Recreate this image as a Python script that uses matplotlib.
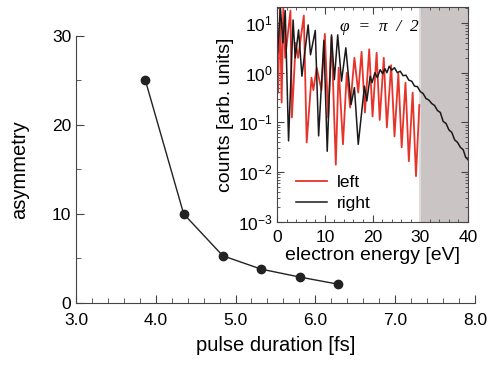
import numpy as np
import matplotlib.pyplot as plt
from matplotlib.ticker import MultipleLocator, FormatStrFormatter, LogLocator, NullFormatter

plt.rcParams['font.family'] = ['Liberation Sans', 'DejaVu Sans']
plt.rcParams['mathtext.fontset'] = 'custom'
plt.rcParams['mathtext.rm'] = 'Liberation Sans'
plt.rcParams['mathtext.it'] = 'Liberation Sans:italic'

# main panel: asymmetry vs pulse duration
pulse_fs = [3.87, 4.35, 4.84, 5.32, 5.81, 6.29]
asymmetry = [25.0, 10.0, 5.3, 3.8, 2.9, 2.1]

# inset: spectra, read as log10(counts) at turning points
left_E = [0.2, 0.6, 0.95, 1.3, 1.7, 2.8, 3.1, 3.9, 4.4, 5.6, 6.2, 7.2, 7.6, 8.3, 9.3,
          10.0, 10.7, 11.4, 12.3, 12.9, 13.8, 14.6, 15.3, 16.2, 17.0, 17.7, 18.4,
          19.3, 20.0, 20.85, 21.5, 22.35, 23.0, 23.9, 24.6, 25.4, 26.1, 26.9, 27.6,
          28.4, 29.1, 29.8]
left_log = [-0.4, 1.35, -0.6, 1.3, 0.3, 1.25, -0.9, 0.6, 0.3, 1.15, -1.4, -0.1, -0.35, 0.1, -0.35,
            0.78, -0.9, 0.72, -1.85, 0.1, -1.44, 0.0, -0.7, 0.3, -0.4, 0.42, -0.8,
            0.47, -0.88, 0.4, -0.95, 0.3, -1.1, 0.15, -1.28, -0.02, -1.5, -0.2, -1.78,
            -0.4, -2.08, -0.65]

right_E = [0.1, 0.7, 1.2, 1.7, 2.4, 3.35, 3.8, 4.5, 5.2, 6.5, 7.0, 8.0, 8.7, 9.8, 10.5,
           11.4, 12.0, 12.7, 13.5, 14.4, 15.5, 16.2, 17.0, 18.3, 18.8, 19.5, 19.9, 20.5,
           21.0, 21.6, 22.1, 22.6, 23.0, 23.5, 24.0, 24.6, 25.2, 25.8, 26.4, 27.0, 27.6,
           28.2, 28.8, 29.4, 30.0, 30.6, 31.2, 31.8, 32.4, 33.0, 33.6, 34.2, 34.8, 35.4,
           36.0, 36.6, 37.2, 37.8, 38.4, 39.0, 39.5, 40.0]
right_log = [0.4, 1.3, 0.6, 1.25, -1.37, 1.06, 0.3, 0.86, -0.07, 0.96, 0.36, 0.85, -1.27, 0.65, -1.58,
             0.76, -0.14, 0.76, -0.17, 0.5, -0.64, -0.3, -1.44, -0.27, -0.57, -0.07, -0.2, 0.0,
             -0.1, 0.06, -0.02, 0.08, 0.0, 0.13, 0.05, 0.1, 0.0, 0.03, -0.06, -0.05, -0.15,
             -0.17, -0.27, -0.28, -0.38, -0.42, -0.52, -0.55, -0.62, -0.66, -0.76, -0.8, -0.98, -1.02,
             -1.15, -1.2, -1.35, -1.4, -1.5, -1.55, -1.7, -1.75]

fig = plt.figure(figsize=(4.87, 3.65), dpi=100)
ax = fig.add_axes([0.156, 0.170, 0.819, 0.732])
ax.plot(pulse_fs, asymmetry, color='#222222', lw=1.0, marker='o', ms=6)
ax.set_xlim(3, 8)
ax.set_ylim(0, 30)
ax.spines['top'].set_visible(False)
ax.spines['right'].set_visible(False)
for s in ax.spines.values():
    s.set_color('#444444')
ax.xaxis.set_major_locator(MultipleLocator(1))
ax.xaxis.set_minor_locator(MultipleLocator(0.2))
ax.xaxis.set_major_formatter(FormatStrFormatter('%.1f'))
ax.yaxis.set_major_locator(MultipleLocator(10))
ax.yaxis.set_minor_locator(MultipleLocator(5))
ax.tick_params(which='both', direction='in', labelsize=12.5, color='#444444')
ax.tick_params(axis='x', pad=7)
ax.tick_params(which='major', length=6)
ax.tick_params(which='minor', length=3.5)
ax.set_xlabel('pulse duration [fs]', fontsize=14.5, labelpad=6)
ax.set_ylabel('asymmetry', fontsize=14.5, labelpad=16)

ins = fig.add_axes([0.569, 0.392, 0.392, 0.589])
ins.axvspan(30, 40, color='#cac4c4', lw=0)
ins.axvline(30, color='#dedcdc', lw=1.5)
ins.plot(left_E, 10 ** np.array(left_log), color='#e8332a', lw=1.3, label='left')
ins.plot(right_E, 10 ** np.array(right_log), color='#1a1a1a', lw=1.1, label='right')
ins.set_yscale('log')
ins.set_xlim(0, 40)
ins.set_ylim(1e-3, 21)
ins.xaxis.set_major_locator(MultipleLocator(10))
ins.xaxis.set_minor_locator(MultipleLocator(2))
ins.yaxis.set_major_locator(LogLocator(base=10, numticks=10))
ins.yaxis.set_minor_locator(LogLocator(base=10, subs=np.arange(2, 10), numticks=10))
ins.yaxis.set_minor_formatter(NullFormatter())
ins.tick_params(which='both', direction='in', top=True, right=True, labelsize=12.5, color='#444444', pad=3)
ins.tick_params(axis='x', pad=6)
ins.tick_params(which='major', length=5)
ins.tick_params(which='minor', length=2.5)
for s in ins.spines.values():
    s.set_color('#444444')
ins.set_xlabel('electron energy [eV]', fontsize=14, labelpad=1)
ins.set_ylabel('counts [arb. units]', fontsize=14, labelpad=3)
ins.text(0.535, 0.905, '\u03c6  =  \u03c0  /  2', transform=ins.transAxes, ha='center', va='center',
         fontsize=12.5, fontstyle='italic', family=['Liberation Serif', 'DejaVu Serif'])
ins.legend(loc='lower left', frameon=False, fontsize=12.5, handlelength=1.8, handletextpad=0.6,
           labelspacing=0.3, borderaxespad=0.0, bbox_to_anchor=(0.06, 0.02))

fig.savefig('out.png', dpi=100)
